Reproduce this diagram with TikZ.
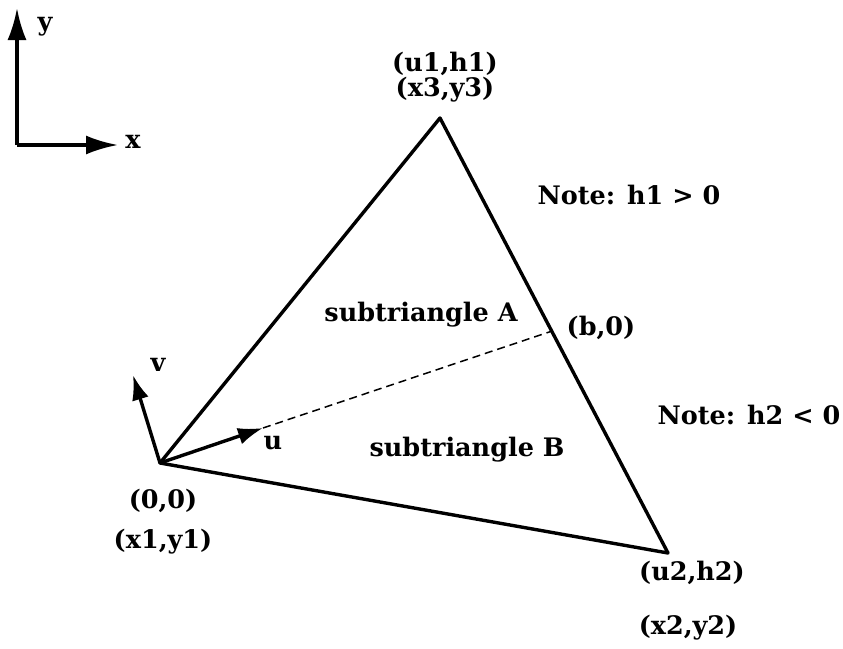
\documentclass[tikz,border=0pt]{standalone}
\usepackage{fontspec}
\setmainfont{DejaVu Serif}
\usetikzlibrary{arrows.meta,calc}
\begin{document}
\begin{tikzpicture}[x=1pt,y=-1pt,
  lbl/.style={font=\bfseries\fontsize{25.5}{28}\selectfont, inner sep=0pt},
  edge/.style={line width=3.4pt, line join=round},
  bigarrow/.style={line width=3.4pt, -{Latex[length=32pt,width=19pt]}},
  vecarrow/.style={line width=3.4pt, -{Latex[length=25pt,width=17pt]}},
  splitline/.style={line width=1.5pt, dash pattern=on 8pt off 5pt}]
\useasboundingbox (0,0) rectangle (843,648);
% axes
\coordinate (A) at (17,145);
\coordinate (Ytip) at (17,8);
\coordinate (Xtip) at (118,145);
\draw[bigarrow] (A) -- (Ytip);
\draw[bigarrow] (A) -- (Xtip);
\node[lbl] (ylab) at (45,27) {y};
\node[lbl] (xlab) at (133,142) {x};
% triangle
\coordinate (O) at (160,463);
\coordinate (T) at (440,118);
\coordinate (R) at (668,553);
\coordinate (B) at ($(T)!0.49!(R)$);
\draw[edge] (O) -- (T) -- (R) -- cycle;
% local frame
\coordinate (U) at (263,428);
\coordinate (V) at (133,375);
\draw[splitline] (U) -- (B);
\draw[vecarrow] (O) -- (U);
\draw[vecarrow] (O) -- (V);
\node[lbl] (ulab) at (273,443) {u};
\node[lbl] (vlab) at (158,365) {v};
% labels
\node[lbl] (u1h1) at (445,64) {(u1,h1)};
\node[lbl] (x3y3) at (445,90) {(x3,y3)};
\node[lbl] (note1) at (629,195) {Note: h1 > 0};
\node[lbl] (subA) at (421,315) {subtriangle A};
\node[lbl] (b0) at (601,328) {(b,0)};
\node[lbl] (note2) at (749,415) {Note: h2 < 0};
\node[lbl] (subB) at (467,450) {subtriangle B};
\node[lbl] (o00) at (163,501) {(0,0)};
\node[lbl] (x1y1) at (163,542) {(x1,y1)};
\node[lbl] (u2h2) at (692,573) {(u2,h2)};
\node[lbl] (x2y2) at (688,628) {(x2,y2)};
\end{tikzpicture}
\end{document}
